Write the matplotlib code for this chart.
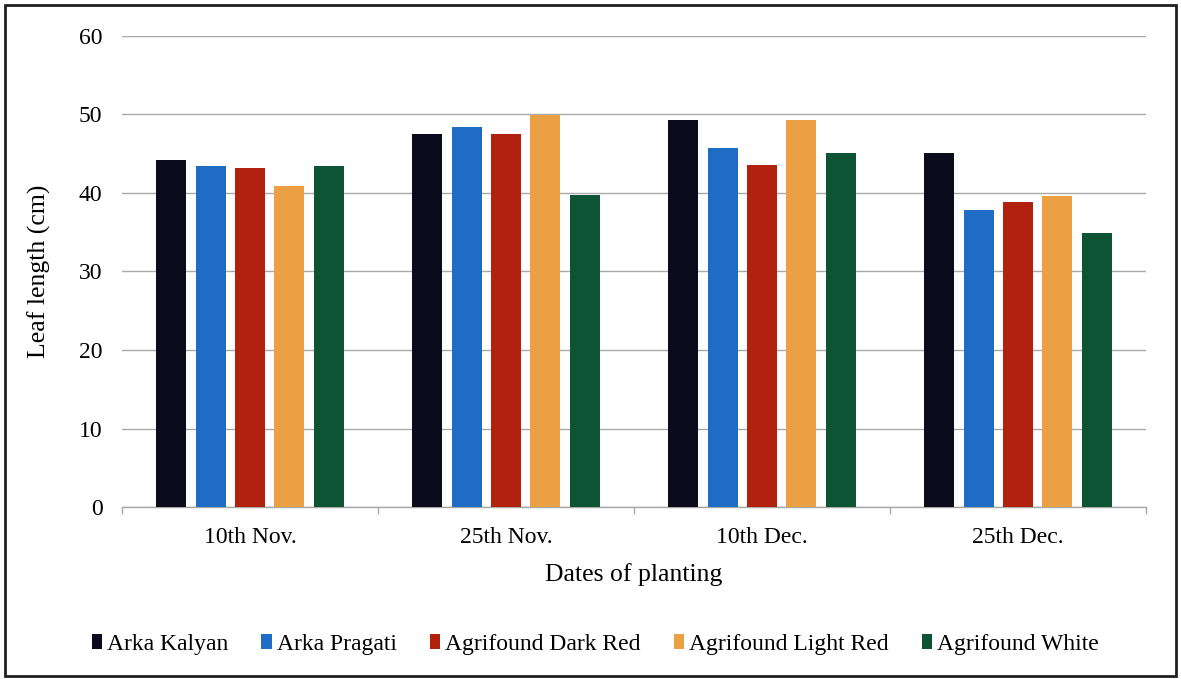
import numpy as np
import matplotlib
matplotlib.use("Agg")
import matplotlib.pyplot as plt
from matplotlib.patches import Rectangle

plt.rcParams['font.family'] = ['Liberation Serif', 'DejaVu Serif']

dates = ["10th Nov.", "25th Nov.", "10th Dec.", "25th Dec."]
varieties = ["Arka Kalyan", "Arka Pragati", "Agrifound Dark Red",
             "Agrifound Light Red", "Agrifound White"]
arka_kalyan = [44.2, 47.5, 49.3, 45.1]
arka_pragati = [43.4, 48.4, 45.7, 37.8]
agrifound_dark_red = [43.2, 47.5, 43.6, 38.9]
agrifound_light_red = [40.9, 49.9, 49.3, 39.6]
agrifound_white = [43.4, 39.7, 45.1, 34.9]
y_ticks = [0, 10, 20, 30, 40, 50, 60]

series = [arka_kalyan, arka_pragati, agrifound_dark_red,
          agrifound_light_red, agrifound_white]
colors = ["#0b0b1c", "#1e6cc4", "#b2200e", "#eaa043", "#0c5434"]

fig = plt.figure(figsize=(11.81, 6.79), dpi=100)
ax = fig.add_axes([0.1033, 0.2533, 0.8671, 0.6937])

x = np.arange(len(dates))
step = 0.154
width = 0.117
for i, (vals, c) in enumerate(zip(series, colors)):
    ax.bar(x + (i - 2) * step, vals, width=width, color=c, label=varieties[i], zorder=3)

ax.set_xlim(-0.5, len(dates) - 0.5)
ax.set_ylim(0, 60)
ax.set_yticks(y_ticks)
ax.yaxis.grid(True, color="#a8a8a8", linewidth=1.0, zorder=0)
ax.tick_params(axis="y", length=0, pad=14, labelsize=17)
ax.set_xticks(x)
ax.set_xticklabels(dates, fontsize=17)
ax.tick_params(axis="x", length=0, pad=14.5)
# boundary ticks between date groups
ax.set_xticks(np.arange(-0.5, len(dates)), minor=True)
ax.tick_params(axis="x", which="minor", length=5, color="#a8a8a8", width=1)

for s in ["top", "right", "left"]:
    ax.spines[s].set_visible(False)
ax.spines["bottom"].set_color("#a8a8a8")
ax.spines["bottom"].set_linewidth(1.0)

ax.set_xlabel("Dates of planting", fontsize=18.5, labelpad=10.5)
ax.set_ylabel("Leaf length (cm)", fontsize=18.5, labelpad=20)

fig.legend(loc="center", bbox_to_anchor=(0.504, 0.051), ncol=5, frameon=False,
           fontsize=17, handlelength=0.45, handleheight=0.55, handletextpad=0.2,
           columnspacing=1.4)

fig.patches.append(Rectangle((0.004, 0.004), 0.992, 0.988, transform=fig.transFigure,
                             fill=False, edgecolor="#202020", linewidth=2))

fig.savefig("out.png", dpi=100, facecolor="white")
